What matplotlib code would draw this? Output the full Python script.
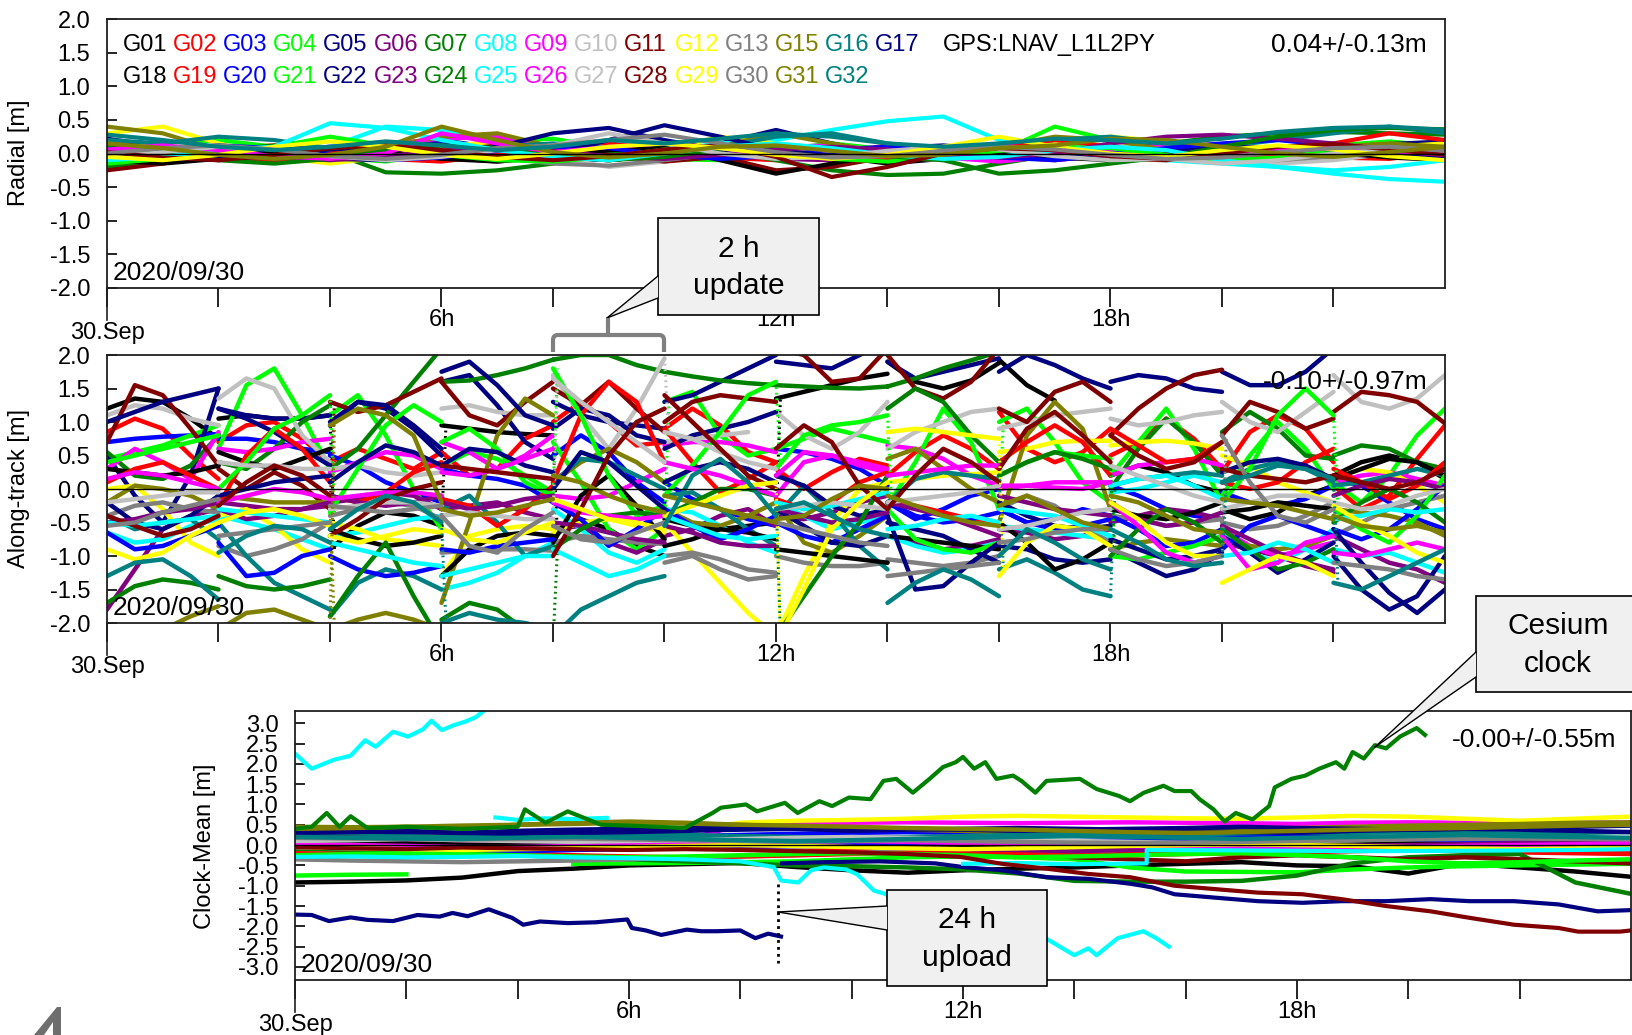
import numpy as np
import matplotlib
matplotlib.use("Agg")
import matplotlib.pyplot as plt
from matplotlib import font_manager
from matplotlib.patches import Rectangle, Polygon, PathPatch
from matplotlib.path import Path

N = np.nan

SATS = ["G01", "G02", "G03", "G04", "G05", "G06", "G07", "G08", "G09", "G10",
        "G11", "G12", "G13", "G15", "G16", "G17",
        "G18", "G19", "G20", "G21", "G22", "G23", "G24", "G25", "G26", "G27",
        "G28", "G29", "G30", "G31", "G32"]
PALETTE = ["#000000", "#ff0000", "#0000ff", "#00ff00", "#000080", "#800080",
           "#008000", "#00ffff", "#ff00ff", "#c0c0c0", "#800000", "#ffff00",
           "#808080", "#808000", "#008080", "#000080"]
COLORS = PALETTE[:16] + PALETTE[:15]

HOURS = np.arange(25)
XTICKS = list(range(0, 24, 2))
XLABELS = {6: "6h", 12: "12h", 18: "18h"}
DATE = "2020/09/30"
STATS = ["0.04+/-0.13m", "-0.10+/-0.97m", "-0.00+/-0.55m"]
SIGNAL = "GPS:LNAV_L1L2PY"

# radial orbit error, hourly samples [m]
RADIAL = {
    "G01": [0.05, 0.10, 0.02, -0.08, -0.05, 0.06, 0.12, 0.04, -0.06, -0.10, -0.02, 0.08, 0.10, -0.04, -0.15, -0.08, 0.05, 0.10, 0.02, -0.06, -0.04, 0.06, 0.10, 0.02, -0.05],
    "G02": [-0.10, -0.02, 0.08, 0.12, 0.04, -0.08, -0.12, -0.02, 0.10, 0.15, 0.06, -0.06, -0.10, 0.00, 0.12, 0.08, -0.04, -0.10, -0.02, 0.10, 0.14, 0.05, -0.06, -0.08, 0.02],
    "G03": [0.15, 0.08, -0.04, -0.10, -0.02, 0.10, 0.14, 0.06, -0.05, -0.08, 0.02, 0.12, 0.06, -0.06, -0.10, 0.00, 0.10, 0.12, 0.04, -0.06, -0.10, -0.02, 0.08, 0.12, 0.05],
    "G04": [0.00, 0.12, 0.20, 0.10, -0.05, -0.12, 0.02, 0.18, 0.22, 0.08, -0.08, -0.10, 0.05, 0.15, 0.06, -0.06, 0.02, 0.40, 0.20, 0.02, -0.08, 0.00, 0.12, 0.18, 0.10],
    "G05": [0.22, 0.10, -0.02, -0.10, 0.00, 0.12, 0.20, 0.08, -0.05, -0.10, -0.02, 0.15, 0.35, 0.15, -0.02, -0.08, 0.04, 0.15, 0.22, 0.10, -0.04, -0.08, 0.02, 0.14, 0.18],
    "G06": [-0.05, -0.12, -0.06, 0.04, 0.10, 0.05, -0.06, -0.12, -0.04, 0.06, 0.10, 0.02, -0.08, -0.10, 0.00, 0.08, 0.12, 0.20, 0.22, 0.18, 0.10, 0.02, -0.05, -0.02, 0.05],
    "G07": [-0.20, -0.10, 0.05, 0.12, 0.02, -0.28, -0.30, -0.25, -0.15, 0.00, 0.10, 0.05, -0.10, -0.25, -0.32, -0.30, -0.15, -0.02, 0.08, 0.15, 0.25, 0.30, 0.32, 0.30, 0.28],
    "G08": [0.10, 0.05, -0.05, -0.12, 0.10, 0.40, 0.35, 0.15, 0.02, -0.05, 0.05, 0.15, 0.20, 0.35, 0.48, 0.55, 0.20, 0.05, -0.05, -0.10, -0.15, -0.20, -0.30, -0.38, -0.42],
    "G09": [0.02, -0.06, -0.10, 0.00, 0.10, 0.14, 0.22, 0.25, 0.08, -0.05, -0.10, 0.00, 0.10, 0.12, 0.04, -0.06, -0.12, -0.04, 0.06, 0.12, 0.08, -0.02, -0.08, 0.00, 0.06],
    "G10": [0.08, 0.15, 0.10, 0.00, -0.08, -0.04, 0.06, 0.12, -0.05, -0.20, -0.12, 0.02, 0.10, 0.05, -0.05, -0.10, 0.00, 0.10, 0.14, 0.06, -0.08, -0.15, -0.10, 0.00, 0.08],
    "G11": [-0.25, -0.15, 0.00, 0.10, 0.05, -0.05, 0.05, 0.15, 0.10, -0.02, -0.12, -0.05, -0.25, -0.20, -0.05, 0.05, 0.10, 0.04, -0.08, -0.10, 0.00, 0.10, 0.12, 0.05, -0.04],
    "G12": [0.30, 0.40, 0.15, -0.05, -0.15, -0.05, 0.10, 0.18, 0.05, -0.10, 0.05, 0.25, 0.15, 0.00, -0.10, -0.05, 0.08, 0.15, 0.25, 0.18, 0.05, -0.05, -0.02, 0.10, 0.15],
    "G13": [0.05, 0.00, -0.08, -0.05, 0.05, 0.10, 0.04, -0.06, -0.15, -0.18, -0.10, 0.00, 0.06, 0.02, -0.06, -0.08, 0.00, 0.08, 0.10, 0.02, -0.06, -0.10, -0.04, 0.05, 0.10],
    "G15": [0.40, 0.30, 0.05, -0.10, -0.05, 0.10, 0.25, 0.30, 0.10, -0.05, -0.08, 0.10, 0.30, 0.15, 0.00, -0.05, 0.10, 0.25, 0.20, 0.05, -0.05, 0.00, 0.10, 0.15, 0.10],
    "G16": [0.20, 0.15, 0.25, 0.20, 0.08, -0.05, 0.00, 0.10, 0.15, 0.08, 0.00, 0.10, 0.25, 0.30, 0.15, 0.05, 0.10, 0.20, 0.25, 0.15, 0.10, 0.20, 0.30, 0.40, 0.30],
    "G17": [-0.05, 0.05, 0.10, 0.02, -0.08, -0.10, 0.00, 0.10, 0.30, 0.38, 0.20, 0.05, -0.05, -0.02, 0.08, 0.12, 0.05, -0.05, -0.08, 0.02, 0.10, 0.08, 0.00, -0.05, 0.00],
    "G18": [-0.10, -0.15, -0.08, 0.02, 0.08, 0.02, -0.08, -0.12, -0.05, 0.05, 0.08, -0.10, -0.30, -0.15, 0.00, 0.06, 0.02, -0.06, -0.10, -0.04, 0.04, 0.08, 0.02, -0.06, -0.10],
    "G19": [0.12, 0.04, -0.06, -0.10, 0.00, 0.10, 0.12, 0.02, -0.08, -0.06, 0.04, 0.10, 0.05, -0.05, -0.08, 0.02, 0.12, 0.20, 0.10, -0.02, -0.08, 0.00, 0.15, 0.30, 0.20],
    "G20": [-0.02, 0.06, 0.12, 0.08, -0.02, -0.10, -0.06, 0.04, 0.10, 0.08, -0.02, -0.08, -0.04, 0.06, 0.10, 0.04, -0.06, -0.10, -0.02, 0.08, 0.15, 0.20, 0.12, 0.00, -0.06],
    "G21": [-0.15, -0.08, 0.04, 0.10, 0.25, 0.12, -0.02, -0.10, -0.12, -0.05, 0.06, 0.10, 0.04, -0.08, -0.12, -0.05, 0.04, 0.10, 0.08, -0.02, -0.10, -0.06, 0.04, 0.08, 0.02],
    "G22": [0.08, 0.00, -0.08, -0.04, 0.06, 0.10, 0.02, -0.06, -0.02, 0.20, 0.42, 0.25, 0.05, -0.04, 0.00, 0.08, 0.10, 0.02, -0.06, -0.04, 0.05, 0.10, 0.06, -0.02, -0.06],
    "G23": [0.00, 0.05, 0.00, -0.06, -0.10, -0.04, 0.04, 0.08, 0.04, -0.04, -0.08, -0.02, 0.06, 0.10, 0.06, -0.02, -0.06, 0.00, 0.15, 0.25, 0.28, 0.22, 0.15, 0.05, 0.00],
    "G24": [0.10, 0.02, -0.10, -0.15, -0.08, 0.05, 0.12, 0.08, -0.04, -0.10, -0.05, 0.06, 0.12, 0.06, -0.04, -0.10, -0.30, -0.25, -0.15, -0.05, 0.10, 0.25, 0.35, 0.38, 0.36],
    "G25": [-0.10, -0.05, 0.05, 0.10, 0.45, 0.38, 0.20, 0.05, -0.05, -0.10, 0.00, 0.10, 0.15, 0.08, -0.02, -0.08, -0.05, 0.05, 0.10, 0.05, -0.10, -0.20, -0.25, -0.20, -0.10],
    "G26": [0.06, 0.12, 0.05, -0.04, -0.08, 0.00, 0.30, 0.15, 0.02, 0.10, 0.15, 0.08, -0.02, -0.06, 0.02, 0.10, 0.12, 0.05, -0.04, -0.08, 0.00, 0.08, 0.10, 0.04, -0.02],
    "G27": [-0.05, 0.02, 0.10, 0.06, -0.04, -0.10, -0.05, 0.05, 0.12, 0.30, 0.15, 0.00, -0.08, -0.05, 0.04, 0.10, 0.06, -0.04, -0.10, -0.08, -0.15, -0.10, 0.00, 0.06, 0.02],
    "G28": [0.02, -0.06, -0.10, -0.02, 0.08, 0.12, 0.05, -0.05, -0.10, -0.04, 0.06, 0.12, -0.05, -0.35, -0.20, 0.00, 0.08, 0.05, -0.04, -0.08, 0.00, 0.10, 0.14, 0.06, -0.02],
    "G29": [-0.05, -0.10, -0.02, 0.10, 0.18, 0.10, -0.02, -0.08, 0.00, 0.10, 0.15, 0.08, -0.02, -0.08, -0.02, 0.10, 0.25, 0.10, 0.00, -0.05, 0.05, 0.12, 0.06, -0.04, -0.10],
    "G30": [0.00, 0.08, 0.12, 0.06, -0.04, -0.08, -0.02, 0.08, 0.12, 0.20, 0.28, 0.15, 0.02, -0.06, -0.04, 0.04, 0.10, 0.06, -0.02, -0.08, -0.06, 0.02, 0.08, 0.10, 0.04],
    "G31": [0.15, 0.08, -0.02, -0.08, -0.02, 0.10, 0.40, 0.20, 0.02, -0.06, 0.00, 0.10, 0.12, 0.04, -0.04, -0.02, 0.08, 0.12, 0.22, 0.20, 0.10, 0.00, -0.05, 0.02, 0.10],
    "G32": [0.28, 0.20, 0.10, 0.05, 0.10, 0.18, 0.12, 0.05, 0.10, 0.20, 0.15, 0.22, 0.30, 0.25, 0.15, 0.10, 0.15, 0.22, 0.20, 0.15, 0.22, 0.32, 0.38, 0.40, 0.35],
}

# along-track error: 12 two-hour update arcs, 5 samples each (every 30 min)
SEG_T = [0.0, 0.5, 1.0, 1.5, 2.0]
ALONG = {
    "G01": [1.20, 1.35, 1.30, 1.05, 0.75, 1.05, 1.10, 1.05, 1.05, 1.10, -0.90, -0.55, -0.35, -0.40, -0.55,
            0.95, 0.90, 0.85, 0.82, 0.80, -0.70, -0.45, -0.60, -0.85, -1.00, -0.45, -0.55, -0.60, -0.55, -0.50,
            1.35, 1.45, 1.55, 1.65, 1.72, 1.90, 1.60, 1.50, 1.62, 1.88, 1.93, 1.55, 1.32, N, N,
            0.20, 0.35, 0.25, 0.05, -0.05, -0.30, -0.45, -0.35, -0.10, 0.05, 0.20, 0.40, 0.50, 0.40, 0.15],
    "G02": [0.85, 1.05, 0.90, 0.50, 0.15, 0.70, 0.95, 1.00, 0.75, 0.40, 0.40, 0.60, 0.45, 0.30, 0.55,
            0.55, 0.20, 0.30, 0.75, 0.95, 1.00, 1.30, 1.00, 0.65, 0.70, 0.90, 1.20, 0.95, 0.55, 0.40,
            0.30, 0.00, 0.25, 0.45, 0.35, 0.20, 0.55, 0.80, 0.60, 0.30, 1.15, 0.60, 0.40, 0.55, 0.90,
            0.50, 0.70, 1.05, 0.75, 0.30, 0.25, 0.85, 1.10, 0.90, 0.40, 0.05, -0.30, -0.10, 0.45, 0.95],
    "G03": [0.70, 0.75, 0.78, 0.80, 0.82, 0.75, 0.75, 0.70, 0.60, 0.55, 0.50, 0.35, 0.10, -0.05, -0.20,
            0.30, 0.20, 0.15, 0.05, -0.20, 0.50, 0.80, 0.55, 0.10, -0.20, 0.10, -0.15, -0.30, -0.45, -0.55,
            0.60, 0.55, 0.45, 0.30, 0.05, -0.20, -0.45, -0.30, -0.10, 0.00, -0.30, -0.50, -0.60, -0.55, -0.45,
            0.05, -0.10, -0.30, -0.40, -0.45, -0.05, -0.20, -0.25, -0.15, 0.05, 0.15, 0.05, -0.20, -0.45, -0.60],
    "G04": [0.45, 0.55, 0.65, 0.80, 0.95, 0.60, 1.55, 1.80, 1.10, 0.30, 1.10, 1.40, 0.80, 0.00, -0.60,
            0.35, 0.55, 0.45, 0.20, -0.05, 0.70, 0.10, -0.60, -0.90, -0.60, 1.30, 1.45, 0.80, 0.50, 0.60,
            0.60, 0.75, 0.90, 0.80, 0.70, -0.25, 0.40, 1.20, 0.70, -0.30, 1.00, 1.20, 0.70, 0.10, -0.20,
            0.20, 0.70, 1.20, 0.60, -0.20, -0.10, 0.50, 1.00, 0.60, 0.00, 0.10, -0.20, 0.20, 0.80, 1.20],
    "G05": [0.50, -0.10, -0.50, 0.20, 1.50, 1.20, 1.10, 1.05, 1.05, 1.10, 1.00, 1.30, 1.20, 0.90, 0.50,
            1.60, 1.70, 1.25, 0.70, 0.45, 1.30, 1.10, 1.00, 0.95, 0.90, 1.30, 1.40, 1.60, 1.80, 2.00,
            1.90, 1.85, 1.80, 2.00, 2.20, 1.90, 1.65, 1.75, 1.85, 1.95, 1.75, 2.00, 1.85, 1.65, 1.50,
            1.60, 1.70, 1.65, 1.50, 1.45, 1.75, 1.55, 1.55, 1.75, 2.10, N, N, N, N, N],
    "G06": [-1.80, -1.20, -0.60, -0.40, -0.30, -0.20, -0.25, -0.30, -0.30, -0.25, -0.20, -0.15, -0.05, -0.10, -0.30,
            -0.30, -0.25, -0.20, -0.35, -0.45, -0.60, -0.55, -0.80, -0.95, -0.75, -0.70, -0.60, -0.40, -0.30, -0.55,
            -0.40, -0.45, -0.35, -0.20, -0.10, -0.70, -0.80, -0.90, -0.85, -0.75, -0.60, -0.65, -0.75, -0.70, -0.60,
            -0.50, -0.40, -0.30, -0.35, -0.45, -0.80, -0.90, -1.00, -1.15, -1.25, -0.70, -0.90, -1.10, -1.20, -1.40],
    "G07": [0.55, 0.20, 0.15, 0.35, 0.80, 0.40, 0.30, 0.60, 1.00, 1.25, 0.30, 0.60, 1.10, 1.60, 2.10,
            1.60, 1.62, 1.70, 1.80, 1.93, 1.93, 2.00, 2.00, 1.85, 1.75, 1.75, 1.68, 1.62, 1.58, 1.55,
            1.55, 1.53, 1.51, 1.50, 1.53, 1.53, 1.65, 1.80, 1.92, 2.05, N, N, N, N, N,
            0.00, 0.60, 1.05, 0.70, 0.20, 0.85, 1.15, 0.90, 0.50, 0.45, 0.50, 0.65, 0.60, 0.40, 0.30],
    "G08": [-0.65, -0.80, -0.75, -0.55, -0.45, -0.40, -0.50, -0.60, -0.75, -0.90, -0.70, -0.65, -0.55, -0.45, -0.40,
            -1.50, -1.40, -1.25, -1.00, -0.80, -0.30, -0.60, -0.95, -1.10, -0.90, -0.30, -0.35, -0.55, -0.80, -0.95,
            -0.20, -0.40, -0.60, -0.50, -0.40, -0.70, -0.85, -0.95, -0.90, -0.80, -0.55, -0.60, -0.65, -0.70, -0.75,
            -0.05, 0.00, 0.10, 0.20, 0.10, -0.60, -0.95, -1.10, -0.90, -0.60, -0.90, -1.00, -0.95, -1.10, -1.25],
    "G09": [0.30, 0.60, 0.40, 0.15, 0.85, 0.60, 0.55, 0.60, 0.70, 0.75, 0.25, 0.40, 0.55, 0.50, 0.30,
            0.70, 0.55, 0.30, 0.50, 0.80, -0.10, -0.15, -0.10, 0.10, 0.30, 0.65, 0.70, 0.70, 0.65, 0.55,
            -0.10, 0.40, 0.50, 0.35, 0.25, 0.65, 0.60, 0.45, 0.20, 0.05, 0.00, 0.05, 0.02, 0.00, 0.10,
            0.20, 0.35, 0.40, 0.45, 0.35, -0.60, -0.85, -1.00, -0.90, -0.80, 0.10, 0.20, 0.25, 0.15, 0.05],
    "G10": [1.10, 1.25, 1.20, 1.05, 0.95, 1.35, 1.65, 1.50, 0.80, 0.40, 0.30, 0.35, 0.25, 0.20, 0.25,
            1.20, 1.25, 1.15, 1.10, 1.10, 1.70, 1.10, 0.60, 1.20, 1.95, 0.70, 0.75, 0.80, 0.85, N,
            1.15, 0.80, 0.60, 0.85, 1.30, 0.60, 0.85, 1.00, 1.15, 1.20, 0.90, 1.00, 1.10, 1.15, 1.20,
            1.05, 0.95, 1.00, 1.10, 1.15, 1.30, 1.00, 0.85, 1.15, 1.45, 1.70, 1.30, 1.20, 1.35, 1.70],
    "G11": [0.70, 1.55, 1.40, 0.90, 0.35, 0.30, 0.00, 0.25, 0.05, -0.30, 1.30, 1.15, 1.25, 1.45, 1.65,
            1.60, 1.10, 0.95, 1.30, 1.60, 1.50, 1.25, 1.60, 1.20, 0.85, 1.00, 1.30, 1.40, 1.35, 1.30,
            2.10, 2.00, 1.60, 1.65, 2.10, 2.00, 1.50, 1.35, 1.60, 2.10, 1.20, 1.00, 1.45, 1.60, 1.30,
            0.80, 1.20, 1.50, 1.70, 1.78, 0.80, 1.30, 1.15, 0.90, 1.05, 1.15, 1.45, 1.40, 1.30, 0.98],
    "G12": [0.00, 0.05, -0.30, -0.80, -1.00, -0.40, -0.30, -0.55, -0.90, -1.10, -0.50, -0.60, -0.75, -0.80, -0.85,
            -1.30, -0.70, -0.60, -0.55, -0.60, -0.65, -0.50, -0.45, -0.55, -0.65, -0.50, -0.95, -1.40, -1.85, -2.20,
            -2.20, -1.30, -0.50, 0.00, 0.10, 0.10, 0.15, 0.20, 0.22, 0.25, 0.55, 0.60, 0.70, 0.72, 0.72,
            0.65, 0.70, 0.72, 0.68, 0.60, 0.50, 0.35, 0.10, -0.05, -0.20, 0.15, 0.30, 0.25, 0.05, -0.20],
    "G13": [-0.40, -0.25, -0.20, -0.30, -0.35, -0.85, -1.00, -0.90, -0.75, -0.50, -0.40, -0.30, -0.20, -0.25, -0.45,
            -0.95, -0.92, -0.90, -0.90, -0.92, -0.80, -0.70, -0.75, -0.80, -0.82, -1.00, -0.95, -1.05, -1.20, -1.25,
            -1.00, -1.10, -1.15, -1.15, -1.10, -1.05, -1.10, -1.15, -1.10, -1.00, -0.30, -0.10, -0.25, -0.55, -0.80,
            -0.40, -0.45, -0.55, -0.50, -0.45, -0.50, -0.60, -0.55, -0.40, -0.20, -0.70, -0.50, -0.30, -0.20, -0.10],
    "G15": [-0.20, 0.05, 0.00, -0.10, -0.30, -0.10, -0.15, -0.20, -0.20, -0.20, -2.10, -1.95, -1.85, -1.95, -2.10,
            -1.70, -0.50, 0.80, 1.35, 1.10, 0.10, 0.40, 0.60, 0.40, 0.10, -0.30, -0.50, -0.55, -0.40, -0.20,
            -0.20, -0.80, -0.95, -0.70, -0.40, 0.45, 0.60, 0.30, 0.00, -0.20, -0.50, 0.80, 1.30, 0.90, -0.30,
            -0.90, -0.80, -0.75, -0.80, -0.85, -0.80, -0.85, -0.90, -0.85, -0.70, -0.30, -0.35, -0.40, -0.50, -0.70],
    "G16": [-0.40, -0.60, -0.50, -0.45, -0.75, -0.50, -1.00, -1.40, -1.60, -1.80, -1.90, -1.40, -1.20, -1.30, -1.50,
            -0.30, -0.10, -0.50, -1.00, -0.85, 0.10, 0.45, 0.40, 0.20, 0.00, -0.10, -0.05, -0.30, -0.60, -0.85,
            -0.40, 0.05, -0.35, -0.85, -1.20, -0.20, 0.15, 0.25, 0.20, 0.15, -1.20, -1.05, -1.25, -1.50, -1.60,
            0.05, 0.15, 0.20, 0.25, 0.20, 0.10, 0.30, 0.40, 0.30, 0.10, 0.05, 0.10, 0.20, 0.30, 0.20],
    "G17": [1.00, 1.15, 1.30, 1.40, 1.50, 1.20, 1.05, 0.85, 0.60, 0.35, 0.95, 1.30, 1.25, 0.95, 0.60,
            1.75, 1.90, 1.55, 1.10, 0.95, 0.90, 1.20, 1.10, 0.80, 0.70, 0.60, 0.80, 0.90, 1.00, 1.15,
            0.20, 0.05, -0.25, -0.40, -0.30, -0.50, -0.60, -0.70, -0.90, -1.10, -0.85, -0.90, -1.05, -1.10, -1.05,
            -0.90, -1.10, -1.30, -1.20, -0.95, -0.70, -0.95, -1.25, -1.05, -0.80, -1.00, -1.50, -1.80, -1.60, -1.00],
    "G18": [0.30, 0.25, 0.20, 0.25, 0.35, 0.55, 0.40, 0.30, 0.45, 0.60, -0.60, -0.75, -0.85, -0.80, -0.70,
            -1.30, -0.90, -0.70, -0.65, -0.70, -0.80, -0.10, 0.20, -0.25, -0.75, -0.85, -0.75, -0.60, -0.65, -0.75,
            -0.90, -0.95, -1.00, -1.05, -1.10, -0.70, -0.75, -0.80, -0.85, -0.90, -0.50, -0.80, -1.20, -1.05, -0.80,
            -0.30, -0.40, -0.45, -0.35, -0.20, -0.35, -0.30, -0.20, -0.25, -0.30, 0.15, 0.30, 0.45, 0.40, 0.20],
    "G19": [0.10, 0.30, 0.40, 0.20, 0.00, -0.25, 0.50, 0.90, 0.60, 0.10, -0.10, -0.20, -0.05, 0.25, 0.40,
            -0.15, -0.25, -0.55, -0.30, 0.05, 0.10, 1.10, 1.60, 1.30, 0.40, 0.90, 0.40, -0.05, 0.15, 0.40,
            -0.15, -0.30, -0.20, 0.10, 0.25, -0.20, -0.25, -0.35, -0.45, -0.50, 0.40, 0.70, 0.95, 0.70, 0.20,
            0.90, 0.65, 0.40, 0.45, 0.70, 0.10, 0.00, 0.10, 0.40, 0.60, 0.30, 0.10, -0.15, 0.05, 0.40],
    "G20": [-0.65, -0.90, -0.85, -0.70, -0.55, -0.80, -1.30, -1.25, -1.00, -0.90, -1.00, -1.20, -1.30, -1.25, -1.15,
            -0.90, -0.95, -0.85, -0.80, -0.75, -0.20, -0.45, -0.85, -0.60, -0.30, -0.30, -0.55, -0.75, -0.60, -0.40,
            -0.50, -0.70, -0.80, -0.60, -0.40, -0.20, -0.40, -0.50, -0.45, -0.35, -0.30, -0.50, -0.45, -0.30, -0.40,
            -0.40, -0.60, -0.85, -0.80, -0.60, -0.90, -0.55, -0.40, -0.55, -0.70, -0.60, -0.75, -0.60, -0.30, 0.05],
    "G21": [0.40, 0.50, 0.60, 0.70, 0.80, 0.00, 0.40, 0.90, 1.10, 1.40, -0.35, 0.30, 0.95, 1.25, 1.00,
            0.70, 0.90, 0.60, 0.10, -0.10, 1.80, 1.10, 0.20, -0.40, -0.25, -0.10, 0.35, 0.85, 1.40, 1.60,
            0.30, 0.80, 0.95, 1.00, 1.10, -0.30, -0.75, -0.90, -0.95, -0.80, 0.20, 0.40, 0.55, 0.50, 0.45,
            -1.00, -1.05, -0.95, -0.85, -0.70, -0.20, 0.30, 1.10, 1.50, 1.10, -0.30, -0.60, -0.80, -0.40, 0.20],
    "G22": [-0.20, -0.50, -0.60, -0.40, -0.10, -0.10, 0.00, 0.10, 0.15, 0.20, 0.10, 0.40, 0.65, 0.55, 0.35,
            0.35, 0.60, 0.55, 0.35, 0.25, 0.00, 0.55, 0.40, 0.05, -0.30, 0.10, 0.30, 0.40, 0.30, 0.10,
            -0.30, -0.55, -0.80, -0.85, -0.70, -0.40, -1.50, -1.45, -1.10, -0.80, -0.20, -0.40, -0.55, -0.60, -0.55,
            -0.75, -0.90, -1.05, -1.00, -0.90, 0.25, 0.40, 0.45, 0.35, 0.15, -0.60, -1.10, -1.55, -1.85, -1.50],
    "G23": [-0.50, -0.45, -0.35, -0.30, -0.20, -0.30, -0.45, -0.40, -0.30, -0.20, -0.10, -0.20, -0.25, -0.20, -0.10,
            -0.20, -0.30, -0.25, -0.15, -0.10, -0.50, -0.55, -0.65, -0.75, -0.80, -0.55, -0.65, -0.80, -0.85, -0.85,
            -0.30, -0.40, -0.50, -0.45, -0.35, -0.20, -0.30, -0.40, -0.55, -0.70, -0.10, -0.20, -0.30, -0.35, -0.40,
            -0.20, -0.45, -0.55, -0.50, -0.35, -0.55, -0.75, -0.95, -1.10, -1.20, -0.10, 0.05, 0.15, 0.10, 0.00],
    "G24": [-1.70, -1.45, -1.35, -1.40, -1.50, -1.30, -1.45, -1.50, -1.45, -1.35, -1.90, -1.30, -0.80, -1.60, -2.30,
            -1.95, -1.70, -1.80, -2.10, -2.30, -0.90, -0.60, -0.40, -0.35, -0.40, -0.40, -0.20, 0.00, 0.00, -0.10,
            -2.20, -1.60, -1.00, -0.50, 0.20, 1.20, 1.50, 1.30, 0.80, 0.40, 0.20, 0.40, 0.55, 0.45, 0.30,
            -1.00, -0.60, -0.30, -0.50, -0.80, -0.60, -0.90, -1.20, -1.10, -0.90, -0.50, -0.20, 0.00, -0.20, -0.50],
    "G25": [-0.50, -0.55, -0.50, -0.45, -0.40, -0.30, -0.35, -0.40, -0.45, -0.50, -0.80, -0.90, -1.00, -1.10, -1.15,
            -1.30, -1.20, -1.10, -1.00, -1.00, -0.90, -1.10, -1.30, -1.20, -1.00, -0.40, -0.55, -0.70, -0.75, -0.70,
            -0.20, -0.30, -0.25, -0.15, -0.05, -0.60, -0.55, -0.45, -0.40, -0.50, -0.30, -0.35, -0.40, -0.55, -0.70,
            0.05, 0.15, 0.20, 0.05, -0.15, -1.00, -0.95, -0.80, -0.90, -1.10, -0.45, -0.40, -0.30, -0.35, -0.30],
    "G26": [0.15, 0.25, 0.20, 0.10, 0.00, -0.20, -0.10, 0.00, -0.05, -0.15, -0.15, -0.10, -0.05, -0.05, -0.10,
            0.25, 0.20, 0.30, 0.45, 0.60, -0.20, -0.35, -0.40, -0.45, -0.40, 0.40, 0.30, 0.20, 0.05, -0.10,
            0.20, 0.55, 0.50, 0.40, 0.30, 0.20, 0.25, 0.30, 0.35, 0.35, 0.05, 0.05, 0.10, 0.10, 0.10,
            -0.20, -0.55, -0.95, -1.10, -1.00, -0.70, -1.20, -1.10, -0.80, -0.70, -0.95, -1.00, -0.90, -0.80, -0.90],
    "G27": [-0.20, -0.15, -0.10, -0.05, -0.05, 0.40, 0.35, 0.35, 0.30, 0.30, -0.30, -0.25, -0.20, -0.20, -0.25,
            -0.40, -0.35, -0.40, -0.45, -0.45, 1.65, 1.30, 1.00, 0.70, 0.40, 0.85, 0.75, 0.55, 0.40, 0.30,
            -0.30, -0.25, -0.20, -0.25, -0.30, -0.20, -0.15, -0.10, -0.05, 0.05, -0.60, -0.55, -0.45, -0.35, -0.30,
            0.35, 0.20, 0.05, -0.10, -0.20, -0.30, -0.20, -0.10, -0.10, -0.20, -0.20, -0.30, -0.25, -0.10, 0.00],
    "G28": [-0.40, -0.55, -0.70, -0.60, -0.40, -0.25, 0.10, 0.35, 0.20, -0.10, -0.70, -0.45, -0.15, 0.00, 0.10,
            0.35, 0.30, 0.25, 0.20, 0.15, -1.00, -0.30, 0.50, 1.00, 1.20, 1.40, 1.00, 0.60, 0.20, 0.00,
            0.60, 0.95, 0.70, 0.05, -0.30, -0.30, 0.20, 0.60, 0.40, 0.10, 0.30, 0.90, 1.15, 0.80, 0.40,
            0.80, 0.50, 0.30, 0.40, 0.70, 0.30, 0.20, 0.15, 0.10, 0.20, 0.20, 0.10, 0.00, 0.10, 0.30],
    "G29": [-0.90, -1.05, -0.95, -0.70, -0.50, -0.50, -0.35, -0.30, -0.40, -0.55, -0.70, -0.80, -0.70, -0.60, -0.65,
            -0.60, -0.75, -0.80, -0.65, -0.50, -0.15, -0.30, -0.45, -0.50, -0.60, -0.40, -0.25, -0.10, 0.05, 0.10,
            -2.30, -1.50, -0.60, -0.20, 0.10, 0.85, 0.90, 0.85, 0.80, 0.75, -1.30, -0.80, -0.55, -0.60, -0.85,
            -0.20, -0.45, -0.80, -1.00, -1.00, -1.40, -1.20, -1.00, -1.10, -1.30, -0.25, -0.50, -0.70, -0.95, -1.10],
    "G30": [-0.55, -0.50, -0.35, -0.25, -0.15, -0.70, -0.65, -0.60, -0.55, -0.50, -0.25, -0.30, -0.35, -0.30, -0.25,
            -0.40, -0.85, -0.95, -0.60, -0.35, -0.55, -0.75, -0.80, -0.65, -0.50, -1.10, -1.00, -1.20, -1.35, -1.30,
            -0.50, -0.60, -0.70, -0.80, -0.85, -1.30, -1.25, -1.20, -1.15, -1.10, -0.80, -0.75, -0.65, -0.60, -0.60,
            -0.90, -1.05, -1.15, -1.10, -1.00, 0.80, 0.10, -0.40, -0.50, -0.30, -1.10, -1.15, -1.20, -1.30, -1.35],
    "G31": [N, N, -2.10, -1.90, -1.75, -2.10, -1.85, -1.80, -1.95, -2.10, 0.95, 1.20, 1.10, 0.80, -0.20,
            -0.30, -0.40, -0.35, -0.25, -0.15, 0.20, 0.10, -0.10, -0.25, -0.35, -0.10, -0.20, -0.30, -0.40, -0.50,
            -0.45, -0.40, -0.15, 0.05, 0.00, -0.10, -0.25, -0.40, -0.50, -0.55, -0.25, -0.10, -0.30, -0.50, -0.60,
            -0.10, -0.20, -0.40, -0.60, -0.65, -0.15, -0.20, -0.25, -0.35, -0.45, -0.40, -0.55, -0.60, -0.55, -0.65],
    "G32": [-1.30, -1.10, -1.05, -1.30, -1.65, -0.95, -0.70, -0.55, -0.60, -0.80, -0.60, -0.30, -0.10, -0.20, -0.50,
            -2.00, -1.85, -1.95, -2.00, -2.10, -2.20, -1.80, -1.60, -1.40, -1.30, -0.55, 0.20, 0.45, 0.10, -0.40,
            -0.30, -0.20, -0.40, -0.60, -0.70, -1.70, -1.40, -1.20, -1.35, -1.60, -1.00, -0.60, -0.80, -1.05, -1.20,
            -0.60, -0.80, -1.05, -1.15, -1.10, 0.10, 0.20, 0.35, 0.30, 0.15, -1.40, -1.50, -1.30, -1.10, -0.90],
}

# clock minus mean, hourly samples [m]
CLOCK = {
    "G01": [-0.92, -0.90, -0.87, -0.80, -0.64, -0.58, -0.50, -0.47, -0.44, -0.54, -0.62, -0.68, -0.62, -0.58, -0.55, -0.50, -0.46, -0.42, -0.50, -0.52, -0.70, -0.45, -0.55, -0.65, -0.78],
    "G02": [0.15, 0.12, 0.10, 0.08, 0.10, 0.05, 0.00, -0.05, -0.08, -0.10, -0.12, -0.15, -0.15, -0.12, -0.10, -0.15, -0.18, -0.20, -0.15, -0.12, -0.10, -0.15, -0.18, -0.20, -0.22],
    "G03": [0.05, 0.08, 0.10, 0.12, 0.15, 0.18, 0.20, 0.22, 0.25, 0.28, 0.30, 0.32, 0.30, 0.28, 0.25, 0.22, 0.20, 0.18, 0.15, 0.12, 0.10, 0.08, 0.05, 0.05, 0.08],
    "G04": [-0.75, -0.73, -0.72, N, N, -0.46, -0.45, -0.44, -0.42, -0.40, -0.35, -0.30, -0.28, -0.30, -0.35, -0.55, -0.65, -0.66, -0.67, -0.60, -0.55, -0.52, -0.50, -0.48, -0.46],
    "G06": [0.00, 0.02, 0.05, 0.05, 0.08, 0.10, 0.12, 0.10, 0.08, 0.05, 0.02, 0.00, -0.02, 0.00, 0.02, 0.05, 0.08, 0.10, 0.12, 0.10, 0.08, 0.05, 0.02, 0.00, -0.02],
    "G07": [-0.10, -0.12, -0.15, -0.20, -0.25, -0.30, -0.35, -0.40, -0.45, -0.50, -0.52, -0.55, -0.60, -0.70, -0.88, -0.90, -0.90, -0.88, -0.75, -0.45, -0.30, -0.25, -0.22, -0.92, -1.20],
    "G09": [0.10, 0.08, 0.10, 0.12, 0.10, 0.08, 0.10, 0.12, 0.50, 0.52, 0.55, 0.56, 0.55, 0.54, 0.55, 0.56, 0.55, 0.54, 0.52, 0.55, 0.56, 0.55, 0.54, 0.55, 0.55],
    "G10": [0.05, 0.02, 0.00, -0.02, 0.00, 0.02, 0.00, -0.02, -0.05, -0.05, -0.02, 0.00, 0.02, 0.00, -0.02, -0.05, -0.05, -0.02, 0.00, 0.02, 0.00, -0.02, 0.00, 0.02, 0.00],
    "G11": [0.20, 0.18, 0.15, 0.12, 0.10, 0.08, 0.05, 0.02, 0.00, -0.02, 0.00, 0.02, -0.05, -0.20, -0.30, -0.35, -0.40, -0.30, -0.25, -0.30, -0.35, -0.30, -0.35, -0.40, -0.45],
    "G12": [0.30, 0.32, 0.30, 0.28, 0.30, 0.32, 0.30, 0.35, 0.55, 0.60, 0.62, 0.65, 0.70, 0.72, 0.70, 0.68, 0.66, 0.65, 0.68, 0.72, 0.70, 0.65, 0.60, 0.65, 0.70],
    "G13": [-0.35, -0.38, -0.40, -0.42, -0.40, -0.38, -0.35, -0.30, -0.28, -0.25, -0.20, -0.15, -0.10, -0.08, -0.05, -0.05, -0.08, -0.10, -0.12, -0.10, -0.08, -0.05, -0.02, 0.00, 0.02],
    "G15": [0.45, 0.44, 0.45, 0.43, 0.50, 0.55, 0.58, 0.55, 0.50, 0.45, 0.40, 0.38, 0.35, 0.30, 0.32, 0.35, 0.38, 0.40, 0.42, 0.45, 0.48, 0.50, 0.52, 0.55, 0.56],
    "G16": [0.25, 0.24, 0.22, 0.20, 0.28, 0.30, 0.28, 0.25, 0.22, 0.20, 0.18, 0.20, 0.22, 0.25, 0.28, 0.30, 0.28, 0.25, 0.28, 0.30, 0.32, 0.30, 0.28, 0.30, 0.32],
    "G17": [0.35, 0.33, 0.32, 0.30, 0.35, 0.38, 0.40, 0.42, 0.45, 0.40, 0.35, 0.38, 0.40, 0.42, 0.40, 0.38, 0.35, 0.32, 0.30, 0.35, 0.38, 0.40, 0.38, 0.35, 0.32],
    "G18": [0.08, 0.06, 0.05, 0.05, 0.06, 0.05, 0.04, 0.03, 0.02, 0.00, -0.02, -0.03, -0.05, -0.05, -0.04, -0.02, 0.00, 0.02, 0.03, 0.05, 0.06, 0.05, 0.04, 0.02, 0.00],
    "G19": [-0.20, -0.22, -0.25, -0.22, -0.20, -0.25, -0.28, -0.30, -0.28, -0.25, -0.22, -0.20, -0.18, -0.20, -0.22, -0.25, -0.22, -0.20, -0.18, -0.15, -0.12, -0.10, -0.12, -0.15, -0.18],
    "G20": [-0.05, -0.08, -0.10, -0.12, -0.15, -0.12, -0.10, -0.08, -0.05, -0.02, 0.00, 0.02, 0.05, 0.08, 0.10, 0.12, 0.15, 0.18, 0.20, 0.18, 0.15, 0.12, 0.10, 0.12, 0.15],
    "G21": [-0.25, -0.22, -0.20, -0.22, -0.25, -0.28, -0.30, -0.28, -0.25, -0.22, -0.20, -0.22, -0.25, -0.30, -0.28, -0.25, -0.22, -0.20, -0.25, -0.30, -0.40, -0.45, -0.42, -0.38, -0.35],
    "G22": [0.30, 0.32, 0.35, 0.30, 0.28, 0.30, 0.32, 0.35, 0.38, 0.40, 0.42, 0.40, 0.38, 0.35, 0.38, 0.40, 0.42, 0.45, 0.42, 0.40, 0.38, 0.40, 0.42, 0.45, 0.48],
    "G23": [0.20, 0.18, 0.15, 0.12, 0.10, 0.08, 0.05, 0.02, 0.00, -0.02, -0.05, -0.08, -0.10, -0.12, -0.15, -0.12, -0.10, -0.08, -0.05, -0.02, 0.00, 0.02, 0.05, 0.08, 0.10],
    "G26": [0.02, 0.00, -0.02, -0.05, -0.05, -0.02, 0.00, 0.02, 0.05, 0.08, 0.10, 0.08, 0.05, 0.02, 0.00, -0.02, -0.05, -0.08, -0.10, -0.08, -0.05, -0.02, 0.00, 0.02, 0.05],
    "G27": [0.10, 0.12, 0.15, 0.12, 0.10, 0.08, 0.10, 0.12, 0.15, 0.18, 0.20, 0.18, 0.15, 0.12, 0.10, 0.08, 0.05, 0.08, 0.10, 0.12, 0.15, 0.18, 0.20, 0.18, 0.15],
    "G29": [-0.05, -0.08, -0.10, -0.12, -0.10, -0.08, -0.05, -0.02, 0.00, -0.02, -0.05, -0.08, -0.10, -0.08, -0.05, -0.02, 0.00, 0.02, 0.00, -0.02, -0.05, -0.08, -0.10, -0.08, -0.05],
    "G30": [0.18, 0.16, 0.15, 0.14, 0.15, 0.16, 0.14, 0.12, 0.10, 0.08, 0.10, 0.12, 0.10, 0.08, 0.06, 0.05, 0.06, 0.08, 0.10, 0.12, 0.14, 0.15, 0.16, 0.15, 0.14],
    "G31": [0.40, 0.42, 0.45, 0.48, 0.50, 0.52, 0.55, 0.53, 0.50, 0.48, 0.45, 0.42, 0.40, 0.38, 0.35, 0.32, 0.30, 0.32, 0.35, 0.38, 0.40, 0.42, 0.45, 0.48, 0.50],
    "G32": [0.20, 0.18, 0.16, 0.15, 0.18, 0.20, 0.18, 0.15, 0.12, 0.10, 0.12, 0.15, 0.18, 0.20, 0.22, 0.20, 0.18, 0.15, 0.18, 0.20, 0.22, 0.25, 0.22, 0.20, 0.18],
}

# clocks read at finer resolution, (hour, metres); (N, N) breaks the line
CLOCK_DETAIL = {
    "G05": [(0, -1.71), (0.3, -1.72), (0.61, -1.87), (1.0, -1.78), (1.3, -1.84), (1.76, -1.87), (2.2, -1.72),
            (2.6, -1.76), (2.83, -1.67), (3.1, -1.75), (3.48, -1.58), (3.9, -1.79), (4.1, -1.96), (4.4, -1.88),
            (4.9, -1.92), (5.4, -1.90), (5.97, -1.83), (6.05, -2.04), (6.3, -2.10), (6.58, -2.21), (7.04, -2.08),
            (7.3, -2.12), (7.58, -2.12), (8.0, -2.10), (8.27, -2.29), (8.5, -2.18), (8.73, -2.25), (N, N),
            (8.75, -0.45), (9.5, -0.42), (10.5, -0.40), (11.5, -0.45), (12.0, -0.54), (12.7, -0.62), (13.5, -0.79),
            (14.25, -0.83), (15.0, -0.95), (15.4, -1.04), (15.8, -1.21), (16.5, -1.29), (17.3, -1.38), (18.1, -1.42),
            (18.8, -1.38), (19.6, -1.38), (20.4, -1.33), (21.1, -1.38), (21.9, -1.38), (22.7, -1.46), (23.4, -1.63),
            (24.0, -1.60)],
    "G08": [(0, 2.25), (0.3, 1.88), (0.7, 2.10), (1.0, 2.20), (1.26, 2.58), (1.45, 2.42), (1.76, 2.79), (2.03, 2.67),
            (2.3, 2.85), (2.45, 3.06), (2.64, 2.83), (2.85, 2.95), (3.06, 3.04), (3.25, 3.15), (3.45, 3.37),
            (3.55, 3.45), (N, N), (3.6, 0.68), (4.0, 0.62), (4.5, 0.66), (5.0, 0.64), (5.6, 0.67), (N, N),
            (12.0, -0.46), (13.0, -0.44), (14.0, -0.47), (15.3, -0.45), (15.3, -0.12), (17.0, -0.13),
            (19.0, -0.15), (21.0, -0.14), (23.0, -0.12), (24.0, -0.10)],
    "G24": [(0, 0.40), (0.3, 0.45), (0.57, 0.79), (0.8, 0.45), (1.0, 0.71), (1.3, 0.42), (2, 0.45), (3, 0.40),
            (4, 0.45), (4.13, 0.88), (4.5, 0.55), (4.9, 0.83), (5.5, 0.50), (6, 0.48), (6.5, 0.45), (7, 0.42),
            (7.5, 0.79), (7.65, 0.92), (8.1, 1.00), (8.3, 0.83), (8.8, 1.04), (9.03, 0.79), (9.42, 1.08),
            (9.65, 0.96), (9.95, 1.17), (10.34, 1.13), (10.57, 1.58), (10.8, 1.63), (11.1, 1.29), (11.4, 1.63),
            (11.64, 1.92), (11.87, 2.04), (12.0, 2.17), (12.2, 1.88), (12.4, 2.04), (12.6, 1.63), (12.9, 1.71),
            (13.05, 1.58), (13.3, 1.29), (13.5, 1.58), (14.1, 1.63), (14.4, 1.38), (14.8, 1.21), (15.0, 1.08),
            (15.25, 1.29), (15.6, 1.46), (15.8, 1.33), (16.1, 1.33), (16.25, 1.13), (16.5, 0.88), (16.7, 0.58),
            (16.9, 0.79), (17.2, 0.63), (17.5, 0.96), (17.6, 1.42), (17.9, 1.63), (18.15, 1.71), (18.4, 1.88),
            (18.7, 2.04), (18.85, 1.88), (19.0, 2.29), (19.2, 2.13), (19.4, 2.46), (19.6, 2.38), (19.85, 2.67),
            (20.15, 2.88), (20.3, 2.71)],
    "G25": [(0, -0.29), (1, -0.28), (2, -0.30), (3, -0.29), (4, -0.27), (5, -0.30), (6, -0.32), (7, -0.35),
            (8, -0.40), (8.6, -0.54), (8.73, -0.87), (9.04, -0.92), (9.27, -0.62), (9.5, -0.55), (9.9, -0.60),
            (10.1, -0.72), (10.4, -1.12), (10.6, -1.20), (11.0, -1.45), (11.5, -1.70), (12.0, -1.90),
            (12.5, -2.05), (13.0, -2.18), (13.48, -2.29), (14.0, -2.71), (14.25, -2.54), (14.4, -2.71),
            (14.78, -2.29), (15.24, -2.12), (15.47, -2.29), (15.7, -2.50)],
    "G28": [(0, -0.05), (1, -0.08), (2, -0.10), (3, -0.06), (4, -0.08), (5, -0.10), (6, -0.12), (7, -0.10),
            (8, -0.12), (9, -0.15), (10, -0.18), (11, -0.22), (11.95, -0.29), (12.7, -0.46), (13.5, -0.58),
            (14.25, -0.71), (15.0, -0.79), (15.8, -1.00), (16.5, -1.08), (17.3, -1.17), (18.1, -1.21),
            (18.8, -1.33), (19.6, -1.50), (20.4, -1.63), (21.1, -1.79), (21.9, -1.96), (22.7, -2.04),
            (23.05, -2.13), (23.8, -2.13), (24.0, -2.10)],
}

W, H = 1633, 1035
names = {f.name for f in font_manager.fontManager.ttflist}
NARROW = "Liberation Sans Narrow" if "Liberation Sans Narrow" in names else "Liberation Sans"
plt.rcParams["font.family"] = [NARROW, "DejaVu Sans"]
plt.rcParams["axes.unicode_minus"] = False


def fx(x):
    return x / W


def fy(y):
    return 1 - y / H


fig = plt.figure(figsize=(W / 100, H / 100), dpi=100)
ax1 = fig.add_axes([fx(107), fy(288), 1338 / W, 269 / H])
ax2 = fig.add_axes([fx(107), fy(623), 1338 / W, 268 / H])
ax3 = fig.add_axes([fx(295), fy(980), 1336 / W, 269 / H])


def style(ax, ylim, yticks, date_y):
    ax.set_xlim(0, 24)
    ax.set_ylim(*ylim)
    ax.set_yticks(yticks)
    ax.set_yticklabels([f"{v:.1f}" for v in yticks])
    ax.set_xticks(XTICKS)
    ax.set_xticklabels([XLABELS.get(h, "") for h in XTICKS])
    ax.tick_params(axis="y", direction="in", length=7, width=1.2, pad=12, labelsize=17)
    ax.tick_params(axis="x", direction="out", length=14, width=1.2, pad=1, labelsize=17)
    for sp in ax.spines.values():
        sp.set_linewidth(1.3)
        sp.set_color("#202020")
    ax.axhline(0, color="black", lw=1.0, zorder=5)
    ax.plot([0, 0], [0, -0.12], transform=ax.transAxes, color="#202020", lw=1.2, clip_on=False)
    ax.text(0, -0.125, "30.Sep", transform=ax.transAxes, ha="center", va="top", fontsize=17)
    ax.text(0.004, date_y, DATE, transform=ax.transAxes, ha="left", va="center", fontsize=19, zorder=6)


# radial
for sat, col in zip(SATS, COLORS):
    ax1.plot(HOURS, RADIAL[sat], color=col, lw=3.0, solid_capstyle="round")
style(ax1, (-2, 2), np.arange(-2, 2.01, 0.5), 0.055)
for i, (sat, col) in enumerate(zip(SATS, COLORS)):
    row, k = (0, i) if i < 16 else (1, i - 16)
    ax1.text(0.28 + 0.9 * k, 1.61 if row == 0 else 1.14, sat, color=col,
             ha="left", va="center", fontsize=17, zorder=6)
ax1.text(15.0, 1.61, SIGNAL, ha="left", va="center", fontsize=17, zorder=6)
ax1.text(23.68, 1.61, STATS[0], ha="right", va="center", fontsize=19, zorder=6)
fig.text(fx(19), fy(153), "Radial [m]", rotation=90, ha="center", va="center",
         fontsize=17, family="Liberation Sans")

# along-track: one arc per 2 h update, big jumps between arcs drawn dotted
for sat, col in zip(SATS, COLORS):
    v = np.asarray(ALONG[sat], float).reshape(12, 5)
    xs, ys = [], []
    for k in range(12):
        xs += [2 * k + t for t in SEG_T] + [N]
        ys += list(v[k]) + [N]
        if k < 11 and abs(v[k + 1, 0] - v[k, -1]) > 1.2:
            ax2.plot([2 * k + 2, 2 * k + 2.08], [v[k, -1], v[k + 1, 0]], color=col,
                     lw=2.2, ls=(0, (0.6, 1.2)))
    ax2.plot(xs, ys, color=col, lw=3.2, solid_capstyle="round")
style(ax2, (-2, 2), np.arange(-2, 2.01, 0.5), 0.055)
ax2.text(23.68, 1.6, STATS[1], ha="right", va="center", fontsize=19, zorder=6)
fig.text(fx(19), fy(489), "Along-track [m]", rotation=90, ha="center", va="center",
         fontsize=17, family="Liberation Sans")

# clock
for sat, col in zip(SATS, COLORS):
    if sat in CLOCK:
        ax3.plot(HOURS, CLOCK[sat], color=col, lw=3.2)
for sat, col in zip(SATS, COLORS):
    if sat in CLOCK_DETAIL:
        t, v = zip(*CLOCK_DETAIL[sat])
        ax3.plot(t, v, color=col, lw=3.0)
style(ax3, (-3.32, 3.3), np.arange(-3, 3.01, 0.5), 0.054)
ax3.text(23.74, 2.59, STATS[2], ha="right", va="center", fontsize=19, zorder=6)
ax3.plot([8.68, 8.68], [-0.96, -2.91], color="black", lw=2.0, ls=(0, (1, 1.5)), zorder=6)
fig.text(fx(205), fy(846), "Clock-Mean [m]", rotation=90, ha="center", va="center",
         fontsize=17, family="Liberation Sans")


def callout(box, tip, a1, a2, text):
    x0, y0, x1, y1 = box
    fig.add_artist(Rectangle((fx(x0), fy(y1)), fx(x1) - fx(x0), fy(y0) - fy(y1),
                             transform=fig.transFigure, facecolor="#f0f0f0",
                             edgecolor="black", lw=1.2, zorder=10, clip_on=False))
    fig.add_artist(Polygon([(fx(a1[0]), fy(a1[1])), (fx(tip[0]), fy(tip[1])), (fx(a2[0]), fy(a2[1]))],
                           closed=True, transform=fig.transFigure, facecolor="#f0f0f0",
                           edgecolor="none", zorder=11))
    for a in (a1, a2):
        fig.add_artist(plt.Line2D([fx(a[0]), fx(tip[0])], [fy(a[1]), fy(tip[1])],
                                  transform=fig.transFigure, color="black", lw=1.0, zorder=12))
    fig.text(fx((x0 + x1) / 2), fy((y0 + y1) / 2 + 1), text, ha="center", va="center",
             fontsize=21.5, family="Liberation Sans", linespacing=1.45, zorder=13)


callout((658, 218, 819, 315), (607, 318), (658, 276), (658, 298), "2 h\nupdate")
callout((1476, 596, 1640, 692), (1375, 747), (1476, 652), (1476, 677), "Cesium\nclock")
callout((887, 890, 1047, 986), (778, 912), (887, 906), (887, 930), "24 h\nupload")

# bracket over one 2 h update window
bx_pts = [(553, 352), (553, 340), (553, 335), (558, 335), (608, 335), (608, 318),
          (608, 335), (659, 335), (664, 335), (664, 340), (664, 352)]
codes = [Path.MOVETO, Path.LINETO, Path.CURVE3, Path.CURVE3, Path.LINETO, Path.LINETO,
         Path.MOVETO, Path.LINETO, Path.CURVE3, Path.CURVE3, Path.LINETO]
fig.add_artist(PathPatch(Path([(fx(x), fy(y)) for x, y in bx_pts], codes), transform=fig.transFigure,
                         facecolor="none", edgecolor="#808080", lw=3.0, zorder=12))

# part of a large grey glyph at the lower-left corner
fig.add_artist(Polygon([(fx(34), fy(1035)), (fx(57), fy(1007)), (fx(61), fy(1007)), (fx(61), fy(1035)),
                        (fx(53), fy(1035)), (fx(53), fy(1022)), (fx(44), fy(1035))],
                       closed=True, transform=fig.transFigure, facecolor="#6e6e6e",
                       edgecolor="none", zorder=10))

fig.savefig("out.png", dpi=100)
